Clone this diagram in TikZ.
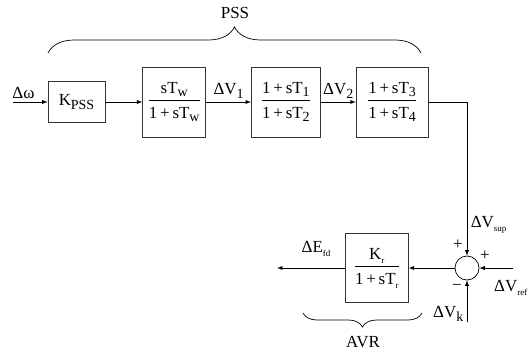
\documentclass[tikz,border=0pt]{standalone}
\usepackage{fontspec}
\setmainfont{Liberation Serif}
\usetikzlibrary{positioning, arrows, decorations.pathreplacing}
\newcommand{\lo}[1]{\raisebox{-0.45ex}{\fontsize{14}{14}\selectfont #1}}
\newcommand{\tn}[1]{\raisebox{-0.5ex}{\fontsize{9}{9}\selectfont #1}}
\newcommand{\frc}[2]{\begin{tabular}{@{}c@{}}#1\\[1pt]\hline\rule{0pt}{18pt}#2\end{tabular}}

\begin{document}
\begin{tikzpicture}[x=1bp, y=1bp,
font=\fontsize{17}{19}\selectfont,
block/.style={rectangle, draw=black!80, line width=0.7bp, minimum height=70bp, inner sep=0pt},
sig/.style={draw, -latex, line width=0.9bp},
wire/.style={draw, line width=0.7bp},
brc/.style={draw, line width=0.7bp, decorate}]
\useasboundingbox (0,0) rectangle (528,351);
% PSS chain
\node[block, minimum width=57bp, minimum height=41bp] (kpss) at (76.5,249) {K\lo{PSS}};
\node[block, minimum width=63bp, right=37bp of kpss] (wash) {\frc{sT\lo{w}}{1\,+\,sT\lo{w}}};
\node[block, minimum width=69bp, right=45bp of wash] (lead1) {\frc{1\,+\,sT\lo{1}}{1\,+\,sT\lo{2}}};
\node[block, minimum width=72bp, right=35bp of lead1] (lead2) {\frc{1\,+\,sT\lo{3}}{1\,+\,sT\lo{4}}};
% AVR part
\node[circle, draw, line width=0.7bp, minimum size=24bp, inner sep=0pt] (sum) at (467,83) {};
\node[block, minimum width=63bp, minimum height=69bp, left=46bp of sum] (avr) {\frc{K\tn{r}}{1\,+\,sT\tn{r}}};
\coordinate (win) at (13,249);
\coordinate (corner) at (467,249);
\coordinate (efd) at (277,83);
\coordinate (vref) at (513,83);
\coordinate (vk) at (467,29);

\draw[sig] (win) -- node[above, pos=0.3] {Δω} (kpss);
\draw[sig] (kpss) -- (wash);
\draw[sig] (wash) -- node[above] {ΔV\lo{1}} (lead1);
\draw[sig] (lead1) -- node[above] {ΔV\lo{2}} (lead2);
\draw[wire] (lead2) -- (corner);
\draw[sig] (corner) -- node[right, pos=0.8] {ΔV\tn{sup}} (sum);
\draw[sig] (vref) -- (sum);
\draw[sig] (vk) -- node[left, pos=0.2] {ΔV\lo{k}} (sum);
\draw[sig] (sum) -- (avr);
\draw[sig] (avr) -- node[above=8bp, xshift=5bp] {ΔE\tn{fd}} (efd);

\node[anchor=east, inner sep=0pt] (ref) at (527.5,63) {ΔV\tn{ref}};
\node (p1) at (458,106) {+};
\node (p2) at (485,95) {+};
\node (m1) at (457,64) {−};

% braces
\draw[brc, decoration={brace, amplitude=26bp}] (48,298) -- (421,298);
\node (pss) at (235,338) {PSS};
\draw[brc, decoration={brace, amplitude=14bp}] (422,38) -- (303,38);
\node (avrlbl) at (363,9) {AVR};
\end{tikzpicture}
\end{document}
